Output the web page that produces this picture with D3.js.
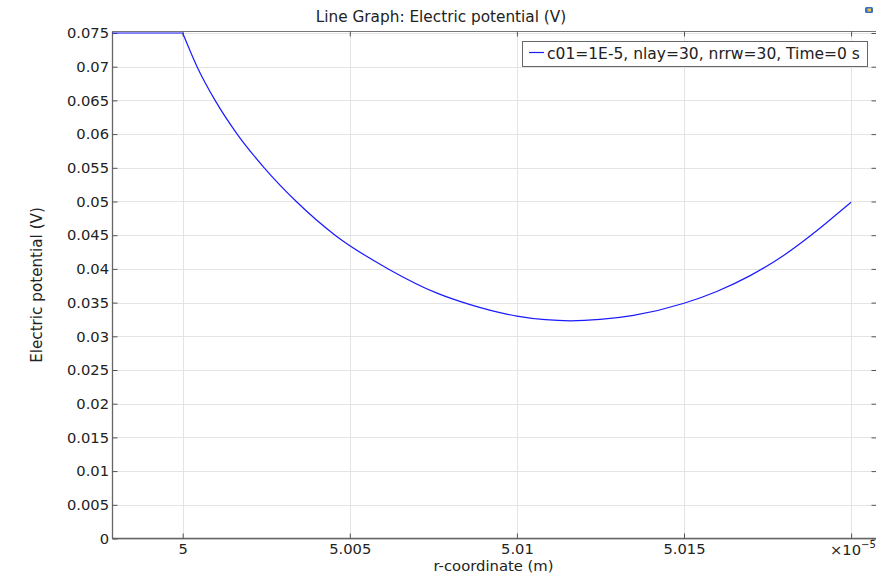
<!DOCTYPE html>
<html><head><meta charset="utf-8">
<script src="https://cdn.jsdelivr.net/npm/d3@7"></script>
<style>
html,body{margin:0;padding:0;background:#fff;}
svg text{font-family:"DejaVu Sans",sans-serif;fill:#222;}
</style></head>
<body><svg id="c" width="876" height="577"></svg>
<script>
// r-coordinate in units of 1e-5 m
const rValues = [4.9979, 5.0, 5.00043, 5.00097, 5.00163, 5.00244, 5.00340, 5.00456, 5.00615, 5.00761, 5.00860, 5.01, 5.01085, 5.0116, 5.01249, 5.01349, 5.015, 5.01598, 5.01698, 5.01798, 5.01898, 5.01947, 5.02];
const potential = [0.075, 0.075, 0.070, 0.065, 0.060, 0.055, 0.050, 0.045, 0.040, 0.0364, 0.0347, 0.0330, 0.03246, 0.0323, 0.03250, 0.0331, 0.0349, 0.03665, 0.0390, 0.0420, 0.0457, 0.0477, 0.0499];
const xTickValues = [5, 5.005, 5.01, 5.015, 5.02];
const xTickLabels = ["5", "5.005", "5.01", "5.015", ""];
const yTickValues = [0, 0.005, 0.01, 0.015, 0.02, 0.025, 0.03, 0.035, 0.04, 0.045, 0.05, 0.055, 0.06, 0.065, 0.07, 0.075];
const yTickLabels = ["0", "0.005", "0.01", "0.015", "0.02", "0.025", "0.03", "0.035", "0.04", "0.045", "0.05", "0.055", "0.06", "0.065", "0.07", "0.075"];
const legendLabel = "c01=1E-5, nlay=30, nrrw=30, Time=0 s";
const titleText = "Line Graph: Electric potential (V)";
const xLabel = "r-coordinate (m)";
const yLabel = "Electric potential (V)";

const svg = d3.select("#c");
const L = 112.5, R = 876.5, T = 31.5, B = 538.5;
const x = d3.scaleLinear().domain([4.9979, 5.02076]).range([L, R]);
const y = d3.scaleLinear().domain([0, 0.075]).range([B, 33]);

// grid
const g = svg.append("g");
g.selectAll(".vg").data(xTickValues).enter().append("line")
  .attr("x1", d => Math.round(x(d)) + 0.5).attr("x2", d => Math.round(x(d)) + 0.5)
  .attr("y1", T).attr("y2", B).attr("stroke", "#e4e4e4").attr("stroke-width", 1);
g.selectAll(".hg").data(yTickValues).enter().append("line")
  .attr("y1", d => Math.round(y(d)) + 0.5).attr("y2", d => Math.round(y(d)) + 0.5)
  .attr("x1", L).attr("x2", R).attr("stroke", "#e4e4e4").attr("stroke-width", 1);

// frame
svg.append("rect").attr("x", L).attr("y", T).attr("width", R - L).attr("height", B - T)
  .attr("fill", "none").attr("stroke", "#777").attr("stroke-width", 1);
svg.append("line").attr("x1", L).attr("x2", R).attr("y1", B).attr("y2", B).attr("stroke", "#666").attr("stroke-width", 1.3);
svg.append("line").attr("x1", L).attr("x2", L).attr("y1", T).attr("y2", B).attr("stroke", "#666").attr("stroke-width", 1.3);

// axes (ticks inward)
const xAxisB = d3.axisBottom(x).tickValues(xTickValues).tickSizeInner(-5).tickSizeOuter(0)
  .tickFormat((d, i) => xTickLabels[i]).tickPadding(5.5);
const gx = svg.append("g").attr("transform", `translate(0,${B})`).call(xAxisB);
gx.select(".domain").remove();
gx.selectAll(".tick line").attr("stroke", "#555");
gx.selectAll("text").attr("font-size", 14.7).attr("fill", "#222").attr("font-family", "DejaVu Sans");

const xAxisT = d3.axisTop(x).tickValues(xTickValues).tickSizeInner(-5).tickSizeOuter(0).tickFormat("");
const gxt = svg.append("g").attr("transform", `translate(0,${T})`).call(xAxisT);
gxt.select(".domain").remove();
gxt.selectAll(".tick line").attr("stroke", "#555");

const yAxisL = d3.axisLeft(y).tickValues(yTickValues).tickSizeInner(-5).tickSizeOuter(0)
  .tickFormat((d, i) => yTickLabels[i]).tickPadding(3.5);
const gy = svg.append("g").attr("transform", `translate(${L},0)`).call(yAxisL);
gy.select(".domain").remove();
gy.selectAll(".tick line").attr("stroke", "#555");
gy.selectAll("text").attr("font-size", 14.7).attr("fill", "#222").attr("font-family", "DejaVu Sans");

const yAxisR = d3.axisRight(y).tickValues(yTickValues).tickSizeInner(-5).tickSizeOuter(0).tickFormat("");
const gyr = svg.append("g").attr("transform", `translate(${R},0)`).call(yAxisR);
gyr.select(".domain").remove();
gyr.selectAll(".tick line").attr("stroke", "#555");

// curve: flat part then smooth descent/ascent
const flatIdx = [0, 1];
const curveIdx = d3.range(1, rValues.length);
svg.append("path").datum(flatIdx)
  .attr("d", d3.line().x(i => x(rValues[i])).y(i => y(potential[i])))
  .attr("fill", "none").attr("stroke", "#1a1aff").attr("stroke-width", 1.2);
svg.append("path").datum(curveIdx)
  .attr("d", d3.line().x(i => x(rValues[i])).y(i => y(potential[i])).curve(d3.curveMonotoneX))
  .attr("fill", "none").attr("stroke", "#1a1aff").attr("stroke-width", 1.2);

// ×10^-5 multiplier
const mult = svg.append("text").attr("x", 830).attr("y", 555).attr("font-size", 14.7);
mult.append("tspan").text("×10");
mult.append("tspan").attr("dy", -7).attr("font-size", 10).text("−5");

// title & labels
svg.append("text").attr("x", 441).attr("y", 22).attr("text-anchor", "middle")
  .attr("font-size", 15.3).text(titleText);
svg.append("text").attr("x", 493.5).attr("y", 571).attr("text-anchor", "middle")
  .attr("font-size", 14.8).text(xLabel);
svg.append("text").attr("transform", `translate(42,${(208 + 362) / 2}) rotate(-90)`)
  .attr("text-anchor", "middle").attr("font-size", 15.2).text(yLabel);

// legend
const lg = svg.append("g");
lg.append("rect").attr("x", 522.5).attr("y", 41.5).attr("width", 345).attr("height", 25)
  .attr("fill", "#fff").attr("stroke", "#666").attr("stroke-width", 1);
lg.append("line").attr("x1", 529).attr("x2", 544).attr("y1", 52.5).attr("y2", 52.5)
  .attr("stroke", "#1a1aff").attr("stroke-width", 1.2);
lg.append("text").attr("x", 547).attr("y", 58.5).attr("font-size", 15.5).text(legendLabel);

// small corner icon
svg.append("rect").attr("x", 865).attr("y", 7).attr("width", 8).attr("height", 6).attr("rx", 1.5).attr("fill", "#3a6fc9");
svg.append("rect").attr("x", 867.5).attr("y", 8.5).attr("width", 3.5).attr("height", 3).attr("fill", "#e8c640");
</script></body></html>
